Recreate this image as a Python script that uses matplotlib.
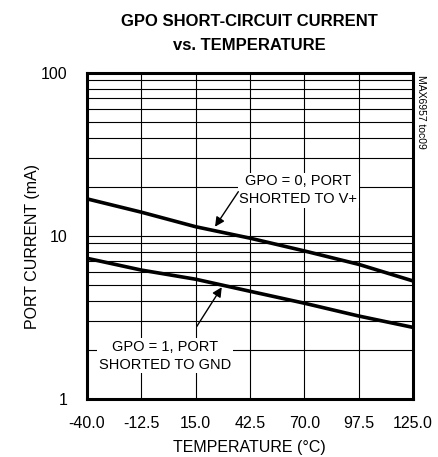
import matplotlib
matplotlib.use("Agg")
from matplotlib import pyplot as plt
from matplotlib.ticker import FixedLocator, NullFormatter

plt.rcParams['font.family'] = ['Liberation Sans', 'DejaVu Sans']

# Data
temp = [-40.0, -12.5, 15.0, 42.5, 70.0, 97.5, 125.0]
gpo0_current = [16.9, 14.0, 11.4, 9.7, 8.1, 6.7, 5.3]    # GPO = 0, shorted to V+
gpo1_current = [7.3, 6.18, 5.43, 4.58, 3.87, 3.23, 2.75]  # GPO = 1, shorted to GND
x_ticks = [-40.0, -12.5, 15.0, 42.5, 70.0, 97.5, 125.0]
y_ticks = [1, 10, 100]

fig = plt.figure(figsize=(4.38, 4.57), dpi=100)
ax = fig.add_axes([87 / 438, 1 - 399 / 457, 326 / 438, 326 / 457])

ax.set_yscale('log')
ax.set_xlim(-40, 125)
ax.set_ylim(1, 100)
ax.set_xticks(x_ticks)
ax.set_xticklabels(["{:.1f}".format(t) for t in x_ticks])
ax.set_yticks(y_ticks)
ax.set_yticklabels([str(v) for v in y_ticks])
ax.yaxis.set_minor_locator(FixedLocator([m * d for d in (1, 10) for m in range(2, 10)]))
ax.yaxis.set_minor_formatter(NullFormatter())
ax.tick_params(axis='both', which='both', length=0, labelsize=11.5)
ax.tick_params(axis='x', pad=12)
ax.tick_params(axis='y', pad=14)
ax.grid(True, which='both', color='black', linewidth=0.8)
for s in ax.spines.values():
    s.set_linewidth(2.2)

ax.plot(temp, gpo0_current, color='black', linewidth=2.6, zorder=3)
ax.plot(temp, gpo1_current, color='black', linewidth=2.6, zorder=3)

box = dict(facecolor='white', edgecolor='none', pad=1)
ax.text(67, 19.1, "GPO = 0, PORT\nSHORTED TO V+", ha='center', va='center',
        fontsize=10.5, linespacing=1.35, bbox=box, zorder=4)
ax.annotate("", xy=(24.8, 11.4), xytext=(36.6, 18.7),
            arrowprops=dict(arrowstyle='-|>', color='black', lw=1.0,
                            mutation_scale=14, shrinkA=0, shrinkB=0), zorder=4)
ax.text(-0.5, 1.84, "GPO = 1, PORT\nSHORTED TO GND", ha='center', va='center',
        fontsize=10.5, linespacing=1.35, bbox=box, zorder=4)
ax.annotate("", xy=(28.2, 4.85), xytext=(15.5, 2.78),
            arrowprops=dict(arrowstyle='-|>', color='black', lw=1.0,
                            mutation_scale=14, shrinkA=0, shrinkB=0), zorder=4)

ax.set_xlabel("TEMPERATURE (\u00b0C)", fontsize=11.5, va='center')
ax.xaxis.set_label_coords(0.497, -0.150)
ax.set_ylabel("PORT CURRENT (mA)", fontsize=11.5, va='center')
ax.yaxis.set_label_coords(-0.166, 0.469)

fig.text(249 / 438, 1 - 22 / 457, "GPO SHORT-CIRCUIT CURRENT", ha='center', va='center',
         fontsize=12, fontweight='bold')
fig.text(249 / 438, 1 - 45 / 457, "vs. TEMPERATURE", ha='center', va='center',
         fontsize=12, fontweight='bold')
fig.text(421 / 438, 1 - 112 / 457, "MAX6957 toc09", ha='center', va='center',
         rotation=270, fontsize=7.5)

fig.savefig("out.png", dpi=100)
